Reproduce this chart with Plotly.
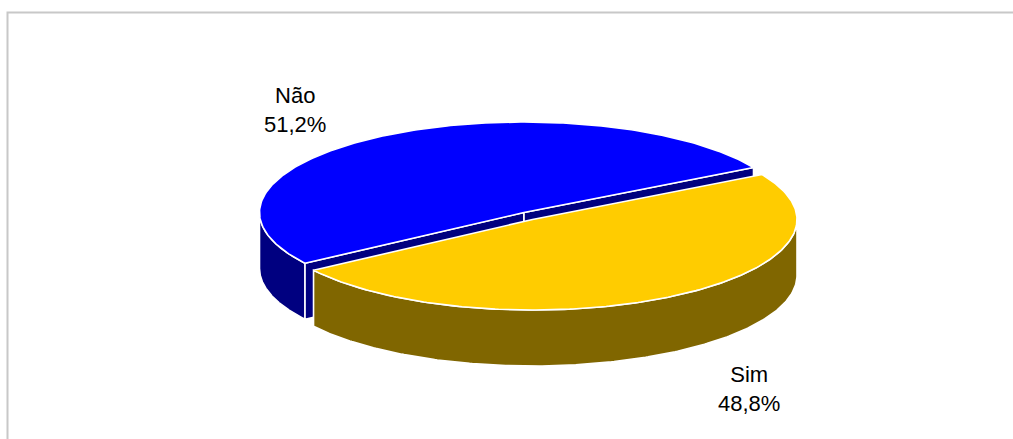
import numpy as np
import plotly.graph_objects as go

# Survey answers, in percent
categories = ["Sim", "Não"]
values = [48.8, 51.2]

top_colors = ["#FFCC00", "#0000FF"]
wall_colors = ["#806600", "#000080"]

# Projection of the tilted disc, in layout pixels
WIDTH, HEIGHT = 1013, 439
RX, RY, DEPTH = 264.5, 90.5, 56
START_ANGLE = 29.8
centers = [(532.5, 219.5), (524, 212.5)]
LINE_W = 1.6

# Angular span of each slice, clockwise from the start angle
spans = []
a = START_ANGLE
for v in values:
    b = a - v / sum(values) * 360
    spans.append((a, b))
    a = b


def arc(c, a0, a1, dy=0.0):
    t = np.radians(np.linspace(a0, a1, 240))
    return c[0] + RX * np.cos(t), c[1] - RY * np.sin(t) + dy


def add_poly(fig, xs, ys, color, name):
    fig.add_trace(go.Scatter(
        x=np.append(xs, xs[0]), y=np.append(ys, ys[0]),
        mode="lines", fill="toself", fillcolor=color,
        line=dict(color="white", width=LINE_W),
        name=name, hoverinfo="skip", showlegend=False,
    ))


def outer_wall(fig, c, span, color, name):
    # Only the stretch of rim on the near half of the disc shows
    a0, a1 = min(span[0], 0), max(span[1], -180)
    x, y = arc(c, a0, a1)
    xb, yb = arc(c, a1, a0, DEPTH)
    add_poly(fig, np.r_[x, xb], np.r_[y, yb], color, name)


def cut_face(fig, c, angle, color, name):
    ex, ey = arc(c, angle, angle)
    ex, ey = ex[0], ey[0]
    xs = np.array([c[0], ex, ex, c[0]])
    ys = np.array([c[1], ey, ey + DEPTH, c[1] + DEPTH])
    add_poly(fig, xs, ys, color, name)


def top_face(fig, c, span, color, name):
    x, y = arc(c, span[0], span[1])
    add_poly(fig, np.r_[c[0], x], np.r_[c[1], y], color, name)


fig = go.Figure()

# The rear slice is painted first so the front one overlaps its cut faces
sim, nao = 0, 1
outer_wall(fig, centers[nao], spans[nao], wall_colors[nao], categories[nao])
for angle in spans[nao]:
    cut_face(fig, centers[nao], angle, wall_colors[nao], categories[nao])
top_face(fig, centers[nao], spans[nao], top_colors[nao], categories[nao])

outer_wall(fig, centers[sim], spans[sim], wall_colors[sim], categories[sim])
top_face(fig, centers[sim], spans[sim], top_colors[sim], categories[sim])


def pct(v):
    return f"{v:.1f}".replace(".", ",") + "%"


label_anchor = {"Não": (295, 110), "Sim": (749, 389)}
for name, v in zip(categories, values):
    lx, ly = label_anchor[name]
    fig.add_annotation(
        x=lx, y=ly, xref="x", yref="y", showarrow=False,
        text=f"{name}<br>{pct(v)}", align="center",
        font=dict(family="Liberation Sans, Arial, sans-serif", size=22, color="#000000"),
    )

# Frame along the top and left of the chart area
fig.add_shape(type="path", path=f"M 7.5 {HEIGHT} L 7.5 12.5 L {WIDTH} 12.5",
              xref="x", yref="y", line=dict(color="#C8C8C8", width=2))

fig.update_layout(
    width=WIDTH, height=HEIGHT,
    margin=dict(l=0, r=0, t=0, b=0),
    paper_bgcolor="white", plot_bgcolor="white",
    xaxis=dict(visible=False, range=[0, WIDTH], fixedrange=True),
    yaxis=dict(visible=False, range=[HEIGHT, 0], fixedrange=True),
    showlegend=False,
)

fig.write_html("out.html")
